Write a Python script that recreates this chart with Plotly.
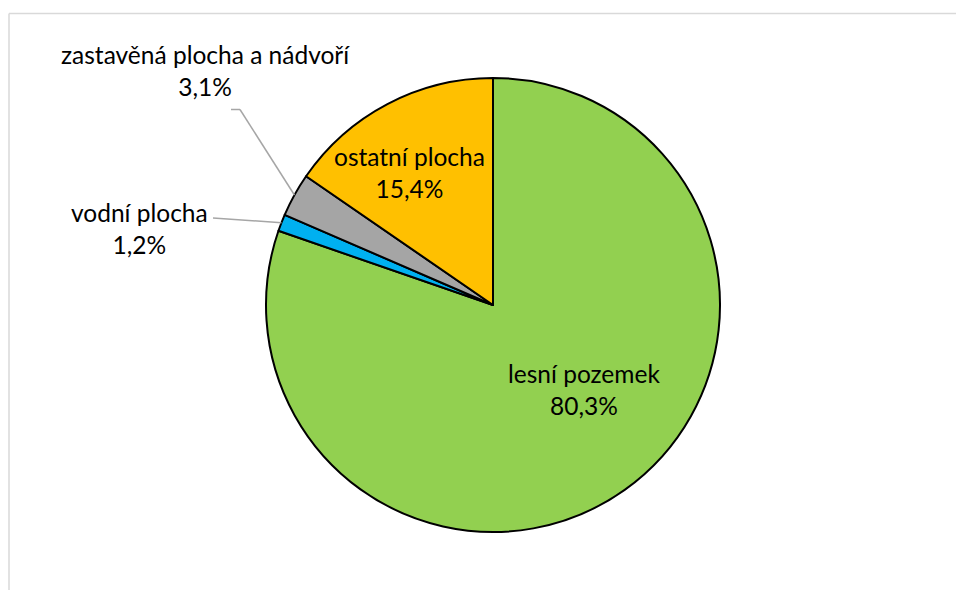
import math
import plotly.graph_objects as go

labels = ["lesní pozemek", "vodní plocha", "zastavěná plocha a nádvoří", "ostatní plocha"]
values = [80.3, 1.2, 3.1, 15.4]
pct_text = ["80,3%", "1,2%", "3,1%", "15,4%"]
colors = ["#92d050", "#00b0f0", "#a5a5a5", "#ffc000"]

W, H = 964, 590
OFF = 8  # default page body margin
CX, CY, R = 493 - OFF, 305 - OFF, 227  # pie centre / radius in figure pixels

# label centres (page pixels)
label_pos = [(584, 389), (139, 228), (205, 71), (409, 173)]
outside = [False, True, True, False]
leader_start = {1: [(213, 218)], 2: [(231, 109.5), (240, 109.5)]}

FONT = "Lato"
FS = 24.5

fig = go.Figure()
fig.add_trace(go.Pie(
    labels=labels, values=values, sort=False, direction="clockwise", rotation=0,
    marker=dict(colors=colors, line=dict(color="black", width=2)),
    textinfo="none", hoverinfo="label+percent", showlegend=False,
    domain=dict(x=[(CX - R) / W, (CX + R) / W], y=[(H - CY - R) / H, (H - CY + R) / H]),
))

def px2paper(x, y):
    # page pixel -> paper coordinates
    return (x - OFF) / W, 1 - (y - OFF) / H

shapes = []
total = sum(values)
cum = 0
for i, v in enumerate(values):
    mid = 90 - (cum + v / 2) / total * 360
    cum += v
    x, y = label_pos[i]
    px_, py_ = px2paper(x, y)
    fig.add_annotation(x=px_, y=py_, xref="paper", yref="paper", showarrow=False,
                       xanchor="center", yanchor="middle",
                       text=f"{labels[i]}<br>{pct_text[i]}", align="center",
                       font=dict(family=FONT, size=FS, color="#000000"))
    if outside[i]:
        ax = CX + OFF + R * math.cos(math.radians(mid))
        ay = CY + OFF - R * math.sin(math.radians(mid))
        pts = leader_start[i] + [(ax, ay)]
        for (x0, y0), (x1, y1) in zip(pts[:-1], pts[1:]):
            a0, b0 = px2paper(x0, y0)
            a1, b1 = px2paper(x1, y1)
            shapes.append(dict(type="line", xref="paper", yref="paper", x0=a0, y0=b0, x1=a1, y1=b1,
                               line=dict(color="#a6a6a6", width=1.5)))

# chart-area border (top and left visible)
for (x0, y0, x1, y1) in [(9, 13.5, W + 20, 13.5), (9, 13.5, 9, H + 20)]:
    a0, b0 = px2paper(x0, y0)
    a1, b1 = px2paper(x1, y1)
    shapes.append(dict(type="line", xref="paper", yref="paper", x0=a0, y0=b0, x1=a1, y1=b1,
                       line=dict(color="#d9d9d9", width=1.5)))

fig.update_layout(width=W, height=H, margin=dict(l=0, r=0, t=0, b=0),
                  paper_bgcolor="white", plot_bgcolor="white", shapes=shapes,
                  font=dict(family=FONT, size=FS))
fig.write_html("out.html")
